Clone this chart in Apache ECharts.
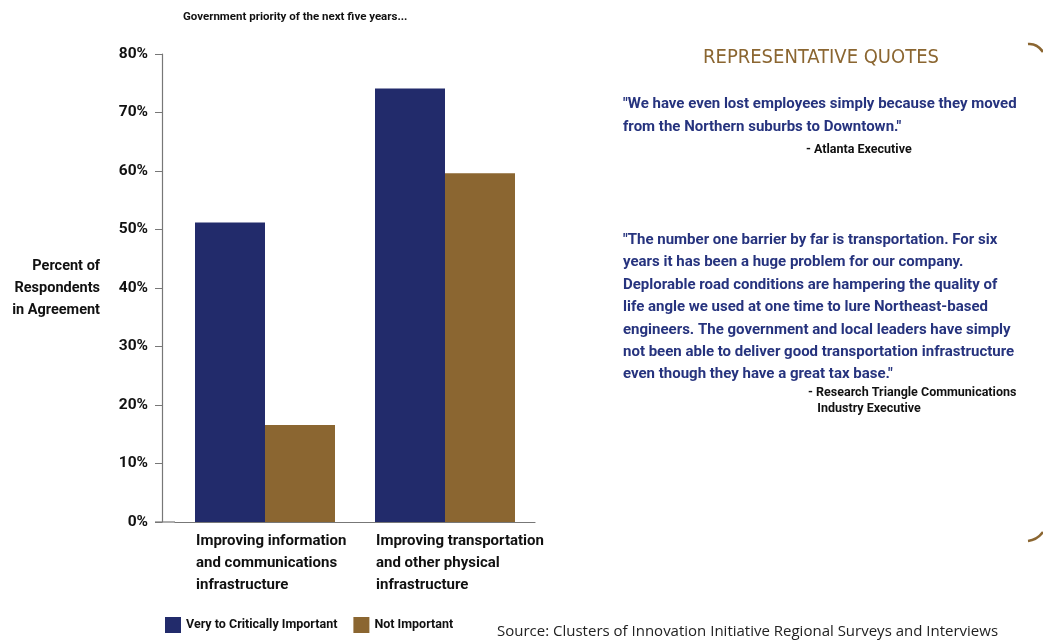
<!DOCTYPE html>
<html>
<head>
<meta charset="utf-8">
<script src="https://cdn.jsdelivr.net/npm/echarts@6/dist/echarts.min.js"></script>
<style>
  html, body { margin: 0; padding: 0; background: #fff; }
  #chart { width: 1043px; height: 640px; }
</style>
</head>
<body>
<div id="chart"></div>
<script>
// --- data ---
const categories = [
  'Improving information\nand communications\ninfrastructure',
  'Improving transportation\nand other physical\ninfrastructure'
]
const seriesNames = ['Very to Critically Important', 'Not Important']
const veryImportant = [51.2, 74.1]
const notImportant = [16.6, 59.6]
const yTicks = [0, 10, 20, 30, 40, 50, 60, 70, 80]

const quote1 = '"We have even lost employees simply because they moved\nfrom the Northern suburbs to Downtown."'
const quote1By = '- Atlanta Executive'
const quote2 = '"The number one barrier by far is transportation. For six\nyears it has been a huge problem for our company.\nDeplorable road conditions are hampering the quality of\nlife angle we used at one time to lure Northeast-based\nengineers. The government and local leaders have simply\nnot been able to deliver good transportation infrastructure\neven though they have a great tax base."'
const quote2By = '- Research Triangle Communications\n   Industry Executive'

const FONT = "Roboto, 'Noto Sans', sans-serif"
const HEAD_FONT = "'DejaVu Sans Condensed', 'DejaVu Sans', sans-serif"
const BLUE = '#222b6b'
const BROWN = '#8b6631'
const NAVY = '#26337e'

const chart = echarts.init(document.getElementById('chart'))

const option = {
  backgroundColor: '#fff',
  animation: false,
  textStyle: { fontFamily: FONT },
  title: {
    text: 'Government priority of the next five years...',
    left: 178, top: 6,
    textStyle: { fontFamily: FONT, fontSize: 11.5, fontWeight: 'bold', color: '#111' }
  },
  legend: {
    left: 165, top: 617, padding: 0,
    icon: 'rect',
    itemWidth: 16, itemHeight: 16, itemGap: 16,
    textStyle: { fontFamily: FONT, fontSize: 12.5, fontWeight: 'bold', color: '#111' },
    data: seriesNames
  },
  grid: { left: 175, right: 508, top: 54, bottom: 118, containLabel: false, outerBoundsMode: 'none' },
  xAxis: {
    type: 'category',
    data: categories,
    axisLine: { lineStyle: { color: '#777', width: 1.2 } },
    axisTick: { show: false },
    axisLabel: {
      margin: 8,
      interval: 0,
      formatter: v => '{a|' + v.split('\n').join('}\n{a|') + '}',
      rich: {
        a: { width: 138, align: 'left', fontFamily: FONT, fontSize: 15, fontWeight: 'bold',
             color: '#111', lineHeight: 22 }
      }
    }
  },
  yAxis: {
    type: 'value',
    min: yTicks[0], max: yTicks[yTicks.length - 1], interval: 10,
    offset: 13,
    name: 'Percent of\nRespondents\nin Agreement',
    nameLocation: 'middle',
    nameRotate: 0,
    nameGap: 62,
    nameTextStyle: { fontFamily: FONT, fontSize: 14.5, fontWeight: 'bold', color: '#111',
                     lineHeight: 22, align: 'right' },
    axisLine: { show: true, lineStyle: { color: '#777', width: 1.2 } },
    axisTick: { show: true, length: 7, lineStyle: { color: '#777' } },
    splitLine: { show: false },
    axisLabel: { formatter: '{value}%', margin: 14, fontFamily: FONT, fontSize: 15.5,
                 fontWeight: 'bold', color: '#111' }
  },
  series: [
    {
      name: seriesNames[0], type: 'bar', data: veryImportant,
      barWidth: 70, barGap: '0%',
      itemStyle: { color: BLUE }
    },
    {
      name: seriesNames[1], type: 'bar', data: notImportant,
      barWidth: 70,
      itemStyle: { color: BROWN }
    }
  ],
  graphic: [
    // x axis stub left of the y axis
    { type: 'line', shape: { x1: 155, y1: 522, x2: 175, y2: 522 },
      style: { stroke: '#777', lineWidth: 1.2 } },
    { type: 'text', x: 821, y: 58,
      style: { text: 'REPRESENTATIVE QUOTES', fill: BROWN, font: '20px ' + HEAD_FONT,
               align: 'center', verticalAlign: 'middle' } },
    { type: 'text', x: 623, y: 93,
      style: { text: quote1, fill: NAVY, font: 'bold 15px ' + FONT, lineHeight: 23 } },
    { type: 'text', x: 806, y: 143,
      style: { text: quote1By, fill: '#111', font: 'bold 12.5px ' + FONT } },
    { type: 'text', x: 623, y: 229,
      style: { text: quote2, fill: NAVY, font: 'bold 15px ' + FONT, lineHeight: 22.4 } },
    { type: 'text', x: 808, y: 385,
      style: { text: quote2By, fill: '#111', font: 'bold 12.5px ' + FONT, lineHeight: 16 } },
    { type: 'text', x: 497, y: 624,
      style: { text: 'Source: Clusters of Innovation Initiative Regional Surveys and Interviews',
               fill: '#222', font: '15px "Open Sans", sans-serif' } },
    // bracket ends at the right edge
    { type: 'bezierCurve', shape: { x1: 1028, y1: 44, cpx1: 1037, cpy1: 43, x2: 1043, y2: 52 },
      style: { stroke: BROWN, lineWidth: 2.5, fill: null } },
    { type: 'bezierCurve', shape: { x1: 1028, y1: 541, cpx1: 1037, cpy1: 540, x2: 1043, y2: 532 },
      style: { stroke: BROWN, lineWidth: 2.5, fill: null } }
  ]
}

chart.setOption(option)
window.addEventListener('resize', () => chart.resize())
</script>
</body>
</html>
